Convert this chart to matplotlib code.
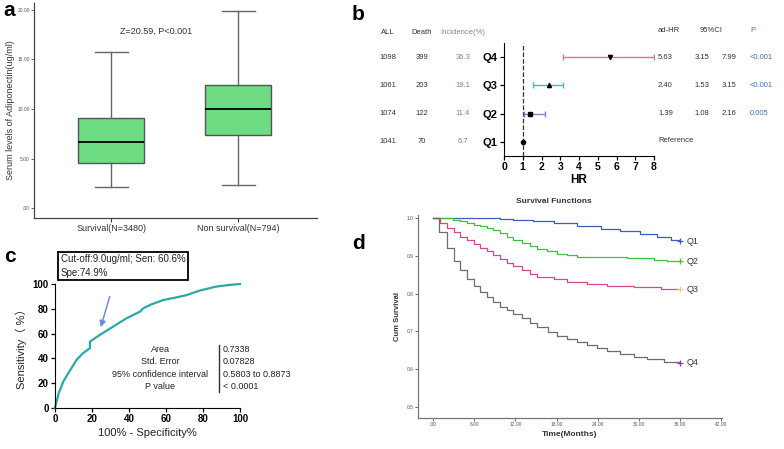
import numpy as np
import matplotlib
matplotlib.use("Agg")
import matplotlib.pyplot as plt

plt.rcParams['font.family'] = ['Liberation Sans', 'Noto Sans CJK SC', 'DejaVu Sans']

# --- panel a: adiponectin box plots ---
box_labels = ["Survival(N=3480)", "Non survival(N=794)"]
box_whislo = [2.1, 2.3]
box_q1 = [4.6, 7.4]
box_med = [6.7, 10.0]
box_q3 = [9.1, 12.4]
box_whishi = [15.8, 19.9]

# --- panel b: forest plot ---
quartiles = ["Q4", "Q3", "Q2", "Q1"]
n_all = [1098, 1061, 1074, 1041]
n_death = [399, 203, 122, 70]
incidence = ["36.3", "19.1", "11.4", "6.7"]
hr = [5.63, 2.40, 1.39, 1.00]
hr_lo = [3.15, 1.53, 1.08, None]
hr_hi = [7.99, 3.15, 2.16, None]
hr_txt = ["5.63", "2.40", "1.39"]
lo_txt = ["3.15", "1.53", "1.08"]
hi_txt = ["7.99", "3.15", "2.16"]
p_txt = ["<0.001", "<0.001", "0.005"]
hr_colors = ["#E8708C", "#3DBDB8", "#8C7BD0", "black"]
hr_markers = ["v", "^", "s", "o"]

# --- panel c: ROC curve ---
fpr = [0, 2, 4.5, 8, 11.7, 15, 18.9, 18.9, 24.3, 31.5, 38.7, 45.9, 47.7, 52,
       58.6, 65, 71, 78, 87, 94, 100]
tpr = [0, 12, 21.4, 30, 38.9, 44, 48.3, 53.6, 59, 65.7, 72.4, 77.7, 80.4, 83.5,
       87.1, 89, 91, 94.6, 97.9, 99.2, 100]
roc_labels = ["Area", "Std. Error", "95% confidence interval", "P value"]
roc_values = ["0.7338", "0.07828", "0.5803 to 0.8873", "< 0.0001"]

# --- panel d: Kaplan-Meier curves ---
km_t = {
    "Q1": [0, 6.8, 9.8, 11.7, 14.6, 17.6, 21, 24.4, 27.3, 30.2, 32.7, 34.6, 36],
    "Q2": [0, 2.9, 3.9, 4.9, 5.9, 6.8, 7.8, 8.8, 9.8, 10.7, 11.7, 12.9, 14.1,
           15.1, 16.6, 18, 19.5, 21, 24.4, 28.3, 32.2, 34.1, 36],
    "Q3": [0, 1.0, 2, 3, 3.9, 4.9, 5.9, 6.8, 7.8, 8.8, 9.8, 10.7, 11.7, 12.9,
           14.1, 15.1, 17.6, 19.5, 22.4, 25.4, 29.3, 33.2, 36],
    "Q4": [0, 0.9, 2, 3, 3.9, 4.9, 5.9, 6.8, 7.8, 8.8, 9.8, 10.7, 11.7, 12.9,
           14.1, 15.1, 16.8, 18, 19.5, 21, 22.4, 23.9, 25.4, 27.3, 29.3, 31.2,
           33.7, 35.9, 36],
}
km_s = {
    "Q1": [1.0, 0.999, 0.998, 0.996, 0.991, 0.987, 0.978, 0.971, 0.965, 0.958,
           0.95, 0.942, 0.938],
    "Q2": [1.0, 0.996, 0.991, 0.987, 0.982, 0.978, 0.973, 0.967, 0.96, 0.951,
           0.942, 0.934, 0.925, 0.918, 0.912, 0.905, 0.901, 0.898, 0.896, 0.893,
           0.889, 0.887, 0.885],
    "Q3": [1.0, 0.987, 0.973, 0.962, 0.951, 0.942, 0.932, 0.92, 0.912, 0.901,
           0.892, 0.882, 0.873, 0.863, 0.852, 0.845, 0.838, 0.832, 0.826, 0.821,
           0.817, 0.813, 0.811],
    "Q4": [1.0, 0.962, 0.92, 0.887, 0.863, 0.838, 0.819, 0.805, 0.792, 0.778,
           0.765, 0.757, 0.746, 0.735, 0.721, 0.711, 0.699, 0.688, 0.679, 0.671,
           0.663, 0.656, 0.648, 0.639, 0.633, 0.627, 0.620, 0.617, 0.617],
}
km_colors = {"Q1": "#4059C4", "Q2": "#3EC23E", "Q3": "#D8478F", "Q4": "#6E6E6E"}
km_end_colors = {"Q1": "#4059C4", "Q2": "#3EC23E", "Q3": "#E2D36A", "Q4": "#8A3E9E"}
d_xticks = [0, 6, 12, 18, 24, 30, 36, 42]
d_xticklabels = [".00", "6.00", "12.00", "18.00", "24.00", "30.00", "36.00", "42.00"]
d_yticks = [0.5, 0.6, 0.7, 0.8, 0.9, 1.0]

W, H = 784, 449
fig = plt.figure(figsize=(W / 100, H / 100), dpi=100)


def px_axes(l, t, r, b):
    return fig.add_axes([l / W, 1 - b / H, (r - l) / W, (b - t) / H])


# ---------------- a ----------------
ax = px_axes(34, 3, 317, 218)
stats = []
for i in range(2):
    stats.append(dict(med=box_med[i], q1=box_q1[i], q3=box_q3[i],
                      whislo=box_whislo[i], whishi=box_whishi[i], fliers=[]))
ax.bxp(stats, positions=[1, 2], widths=0.52, patch_artist=True, showfliers=False,
       boxprops=dict(facecolor="#6EDC82", edgecolor="#555555", linewidth=1.0),
       medianprops=dict(color="black", linewidth=1.3),
       whiskerprops=dict(color="#666666", linewidth=1.0),
       capprops=dict(color="#666666", linewidth=1.0))
ax.set_xlim(0.39, 2.62)
ax.set_ylim(-1.0, 20.7)
ax.set_yticks([0, 5, 10, 15, 20])
ax.set_yticklabels([".00", "5.00", "10.00", "15.00", "20.00"], fontsize=3.5, color="#555555")
ax.set_xticks([1, 2])
ax.set_xticklabels(box_labels, fontsize=6.5, color="#333333")
ax.tick_params(axis="y", length=2, width=0.6, pad=1, color="#555555")
ax.tick_params(axis="x", length=3, width=0.8, pad=1.5, color="#333333")
for s in ["top", "right"]:
    ax.spines[s].set_visible(False)
for s in ["left", "bottom"]:
    ax.spines[s].set_color("#444444")
    ax.spines[s].set_linewidth(0.9)
ax.set_ylabel("Serum levels of Adiponectin(ug/ml)", fontsize=6.5, color="#333333", labelpad=2)
ax.text(1.35, 17.8, "Z=20.59, P<0.001", fontsize=6.5, color="#333333", ha="center", va="center")
fig.text(3 / W, 1 - 11 / H, "a", fontsize=15, fontweight="bold", va="center")

# ---------------- b ----------------
ax = px_axes(504, 43, 654, 156)
rows = [4, 3, 2, 1]
ax.axvline(1, color="#333333", linestyle="--", linewidth=0.9, zorder=0)
for i, y in enumerate(rows):
    if hr_lo[i] is not None:
        ax.errorbar(hr[i], y, xerr=[[hr[i] - hr_lo[i]], [hr_hi[i] - hr[i]]],
                    fmt="none", ecolor=hr_colors[i], elinewidth=1.0, capsize=2.5, capthick=1.0)
    ax.plot(hr[i], y, marker=hr_markers[i], color="black", markersize=3, linestyle="none",
            clip_on=False)
ax.set_xlim(0, 8)
ax.set_ylim(0.5, 4.5)
ax.set_xticks(range(9))
ax.set_yticks(rows)
ax.set_yticklabels(quartiles, fontsize=8, fontweight="bold")
for lab in ax.get_xticklabels():
    lab.set_fontweight("bold")
    lab.set_fontsize(7.5)
ax.tick_params(length=3, width=0.9, pad=1.5)
for s in ["top", "right"]:
    ax.spines[s].set_visible(False)
ax.set_xlabel("HR", fontsize=8.5, fontweight="bold", labelpad=1)
tr = ax.get_yaxis_transform()
hy = 4.86
ax.text(-0.773, hy, "ALL", transform=tr, fontsize=5.5, ha="center", va="center", color="#333333")
ax.text(-0.547, hy, "Death", transform=tr, fontsize=5.5, ha="center", va="center", color="#333333")
ax.text(-0.273, hy, "Incidence(%)", transform=tr, fontsize=5.5, ha="center", va="center", color="#A0709C")
hy2 = 4.96
ax.text(1.027, hy2, "ad-HR", transform=tr, fontsize=5.5, ha="left", va="center", color="#333333")
ax.text(1.307, hy2, "95%CI", transform=tr, fontsize=5.5, ha="left", va="center", color="#333333")
ax.text(1.64, hy2, "P", transform=tr, fontsize=5.5, ha="left", va="center", color="#3F72B5")
for i, y in enumerate(rows):
    ax.text(-0.773, y, str(n_all[i]), transform=tr, fontsize=5.5, ha="center", va="center", color="#333333")
    ax.text(-0.547, y, str(n_death[i]), transform=tr, fontsize=5.5, ha="center", va="center", color="#333333")
    ax.text(-0.273, y, incidence[i], transform=tr, fontsize=5.5, ha="center", va="center", color="#A0709C")
    if i < 3:
        ax.text(1.027, y, hr_txt[i], transform=tr, fontsize=5.5, ha="left", va="center", color="#333333")
        ax.text(1.273, y, lo_txt[i], transform=tr, fontsize=5.5, ha="left", va="center", color="#333333")
        ax.text(1.453, y, hi_txt[i], transform=tr, fontsize=5.5, ha="left", va="center", color="#333333")
        ax.text(1.64, y, p_txt[i], transform=tr, fontsize=5.5, ha="left", va="center", color="#3F72B5")
    else:
        ax.text(1.027, y + 0.05, "Reference", transform=tr, fontsize=5.5, ha="left", va="center", color="#333333")
fig.text(352 / W, 1 - 14 / H, "b", fontsize=15, fontweight="bold", va="center")

# ---------------- c ----------------
ax = px_axes(55, 284, 240, 408)
ax.plot(fpr, tpr, color="#2BA8A8", linewidth=1.6, clip_on=False)
ax.set_xlim(0, 100)
ax.set_ylim(0, 100)
ax.set_xticks([0, 20, 40, 60, 80, 100])
ax.set_yticks([0, 20, 40, 60, 80, 100])
for lab in ax.get_xticklabels() + ax.get_yticklabels():
    lab.set_fontweight("bold")
    lab.set_fontsize(7)
ax.tick_params(length=3, width=0.9, pad=1.5)
for s in ["top", "right"]:
    ax.spines[s].set_visible(False)
ax.set_xlabel("100% - Specificity%", fontsize=8, labelpad=3, color="#222222")
ax.set_ylabel("Sensitivity\uff08 %\uff09", fontsize=8, labelpad=4, color="#222222")
ax.text(3.2, 124, "Cut-off:9.0ug/ml; Sen: 60.6%\nSpe:74.9%", fontsize=7, va="top", ha="left",
        linespacing=1.45, color="#222222",
        bbox=dict(boxstyle="square,pad=0.25", facecolor="white", edgecolor="black", linewidth=1.3),
        clip_on=False)
ax.annotate("", xy=(24.3, 63), xytext=(30, 92),
            arrowprops=dict(arrowstyle="-|>", color="#6C8FD3", linewidth=1.1,
                            mutation_scale=9), annotation_clip=False)
for k, yv in enumerate([46.8, 37.1, 27.4, 17.7]):
    ax.text(56.8, yv, roc_labels[k], fontsize=6.5, ha="center", va="center", color="#222222")
    ax.text(90.8, yv, roc_values[k], fontsize=6.5, ha="left", va="center", color="#222222", clip_on=False)
ax.plot([88.6, 88.6], [12.9, 50.8], color="#333333", linewidth=1.0, clip_on=False)
fig.text(4 / W, 1 - 257 / H, "c", fontsize=15, fontweight="bold", va="center")

# ---------------- d ----------------
ax = px_axes(418, 215, 722, 418)
for q in ["Q1", "Q2", "Q3", "Q4"]:
    ax.plot(km_t[q], km_s[q], drawstyle="steps-post", color=km_colors[q], linewidth=0.9)
    ax.plot(km_t[q][-1], km_s[q][-1], marker="+", color=km_end_colors[q], markersize=4,
            markeredgewidth=0.9)
    ax.text(km_t[q][-1] + 1.0, km_s[q][-1], q, fontsize=6.5, ha="left", va="center", color="#333333")
ax.set_xlim(-2.2, 42.1)
ax.set_ylim(0.471, 1.008)
ax.set_xticks(d_xticks)
ax.set_xticklabels(d_xticklabels, fontsize=3.5, color="#555555")
ax.set_yticks(d_yticks)
ax.set_yticklabels(["0.5", "0.6", "0.7", "0.8", "0.9", "1.0"], fontsize=3.5, color="#555555")
ax.tick_params(length=2, width=0.6, pad=1, color="#555555")
for s in ["top", "right"]:
    ax.spines[s].set_visible(False)
for s in ["left", "bottom"]:
    ax.spines[s].set_color("#777777")
    ax.spines[s].set_linewidth(0.9)
ax.set_xlabel("Time(Months)", fontsize=6, fontweight="bold", labelpad=3, color="#333333")
ax.set_ylabel("Cum Survival", fontsize=5.5, fontweight="bold", labelpad=4, color="#333333")
fig.text(554 / W, 1 - 201 / H, "Survival Functions", fontsize=6, fontweight="bold",
         ha="center", va="center", color="#333333")
fig.text(352 / W, 1 - 243 / H, "d", fontsize=15, fontweight="bold", va="center")

fig.savefig("out.png", dpi=100)
